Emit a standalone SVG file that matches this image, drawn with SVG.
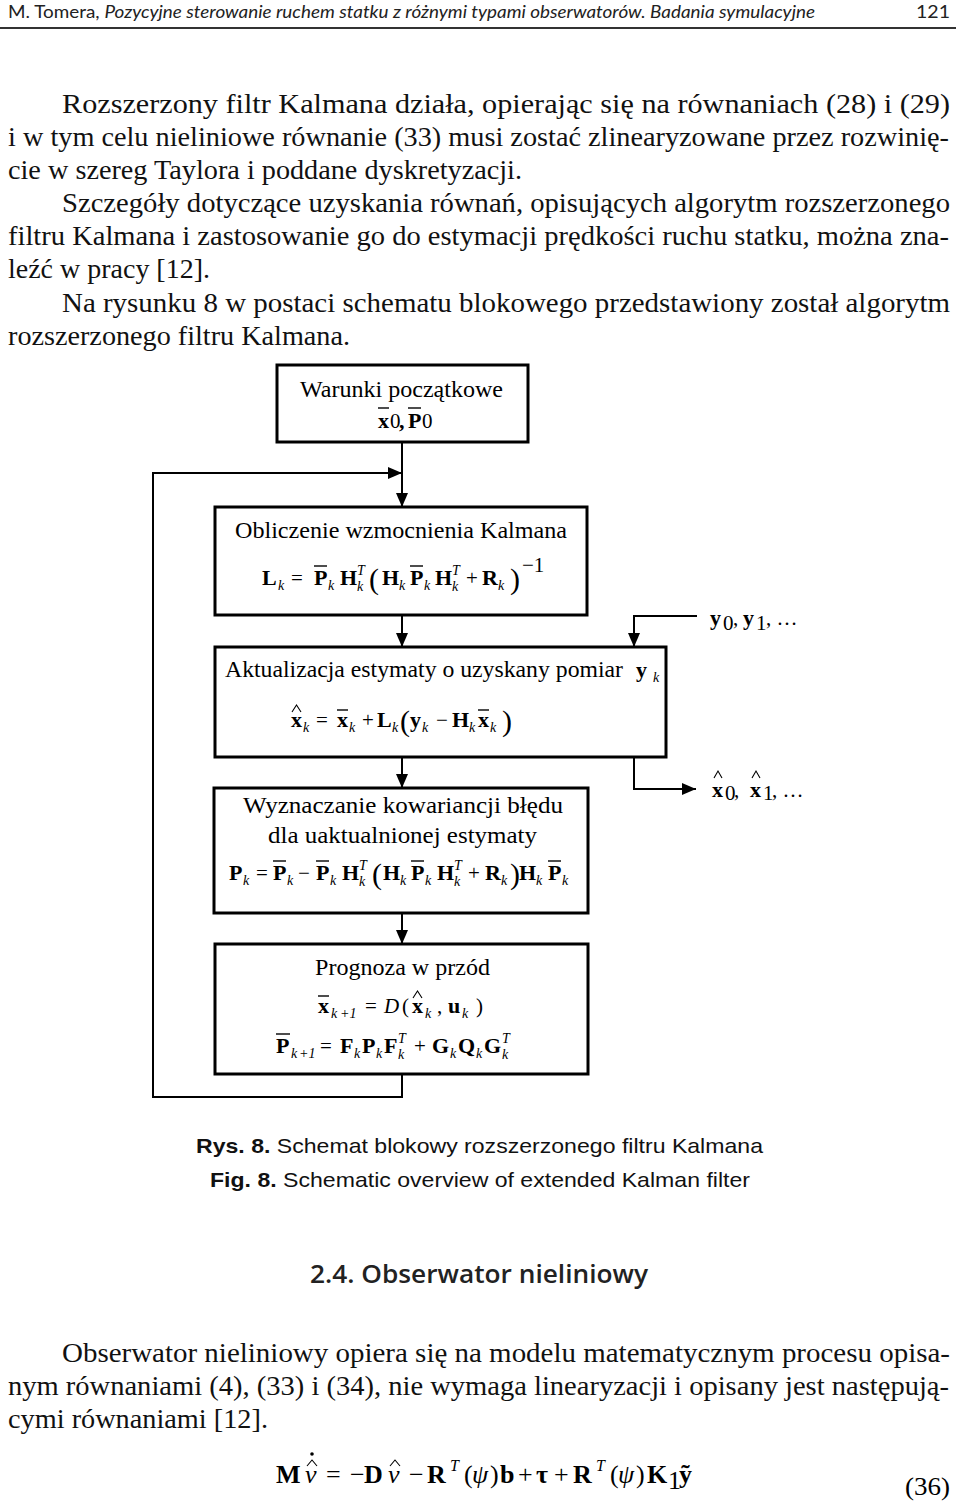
<svg xmlns="http://www.w3.org/2000/svg" width="960" height="1502" viewBox="0 0 960 1502">
<defs>
<style>
.hdr{font-family:"Lato","Open Sans",sans-serif;font-size:18px;fill:#222}
.bt{font-family:"Liberation Serif",serif;font-size:28px;fill:#111}
.bx{font-family:"Liberation Serif",serif;font-size:24px;fill:#000}
.m{font-family:"Liberation Serif",serif;font-size:22px;font-weight:bold;fill:#000}
.s{font-family:"Liberation Serif",serif;font-size:14px;font-style:italic;font-weight:normal}
.o{font-family:"Liberation Serif",serif;font-size:21px;font-weight:normal}
.p{font-family:"Liberation Serif",serif;font-size:30px;font-weight:normal}
.hat{fill:none;stroke:#000;stroke-width:1.1}
.node rect{fill:#fff;stroke:#000;stroke-width:3}
.bar{stroke:#000;stroke-width:1.4}
.conn{fill:none;stroke:#000;stroke-width:2}
.cap{font-family:"Liberation Sans",Arial,sans-serif;font-size:21px;fill:#111}
.head{font-family:"Open Sans","Liberation Sans",sans-serif;font-size:26px;font-weight:600;fill:#222}
.e{font-family:"Liberation Serif",serif;font-size:26px;font-weight:bold;fill:#000}
.eo{font-family:"Liberation Serif",serif;font-size:26px;font-weight:normal}
.ei{font-family:"Liberation Serif",serif;font-size:26px;font-style:italic;font-weight:normal}
.es{font-family:"Liberation Serif",serif;font-size:16px;font-style:italic;font-weight:normal}
</style>
<marker id="ah" viewBox="0 0 14 12" refX="14" refY="6" markerWidth="14" markerHeight="12" markerUnits="userSpaceOnUse" orient="auto"><path d="M0,0 L14,6 L0,12 z" fill="#000"/></marker>
</defs>
<rect width="960" height="1502" fill="#fff"/>

<g id="page-header">
<text class="hdr" x="8" y="18" textLength="807" lengthAdjust="spacingAndGlyphs">M. Tomera, <tspan font-style="italic">Pozycyjne sterowanie ruchem statku z różnymi typami obserwatorów. Badania symulacyjne</tspan></text>
<text class="hdr" x="916" y="18" font-size="20" textLength="34" lengthAdjust="spacingAndGlyphs">121</text>
<line x1="0" y1="28" x2="956" y2="28" stroke="#333" stroke-width="2"/>
</g>

<g id="body-top">
<text class="bt" x="62" y="113" textLength="888" lengthAdjust="spacingAndGlyphs">Rozszerzony filtr Kalmana działa, opierając się na równaniach (28) i (29)</text>
<text class="bt" x="8" y="146" textLength="941" lengthAdjust="spacingAndGlyphs">i w tym celu nieliniowe równanie (33) musi zostać zlinearyzowane przez rozwinię-</text>
<text class="bt" x="8" y="179" textLength="514" lengthAdjust="spacingAndGlyphs">cie w szereg Taylora i poddane dyskretyzacji.</text>
<text class="bt" x="62" y="212" textLength="888" lengthAdjust="spacingAndGlyphs">Szczegóły dotyczące uzyskania równań, opisujących algorytm rozszerzonego</text>
<text class="bt" x="8" y="245" textLength="941" lengthAdjust="spacingAndGlyphs">filtru Kalmana i zastosowanie go do estymacji prędkości ruchu statku, można zna-</text>
<text class="bt" x="8" y="278" textLength="202" lengthAdjust="spacingAndGlyphs">leźć w pracy [12].</text>
<text class="bt" x="62" y="312" textLength="888" lengthAdjust="spacingAndGlyphs">Na rysunku 8 w postaci schematu blokowego przedstawiony został algorytm</text>
<text class="bt" x="8" y="345" textLength="342" lengthAdjust="spacingAndGlyphs">rozszerzonego filtru Kalmana.</text>
</g>

<g id="connectors">
<line class="conn" x1="402" y1="442" x2="402" y2="507" marker-end="url(#ah)"/>
<path class="conn" d="M402,1074 V1097 H153 V473 H402" marker-end="url(#ah)"/>
<line class="conn" x1="402" y1="615" x2="402" y2="647" marker-end="url(#ah)"/>
<line class="conn" x1="402" y1="757" x2="402" y2="788" marker-end="url(#ah)"/>
<line class="conn" x1="402" y1="913" x2="402" y2="944" marker-end="url(#ah)"/>
<path class="conn" d="M697,616 H634 V647" marker-end="url(#ah)"/>
<path class="conn" d="M634,757 V789 H696" marker-end="url(#ah)"/>
</g>

<g id="box-init" class="node">
<rect x="277" y="365" width="251" height="77"/>
<text class="bx" x="300" y="397" textLength="203" lengthAdjust="spacingAndGlyphs">Warunki początkowe</text>
<text class="m"><tspan x="378" y="428">x</tspan><tspan class="o" x="390" y="428" font-size="17">0</tspan><tspan x="399" y="428">,</tspan><tspan x="408" y="428">P</tspan><tspan class="o" x="422" y="428" font-size="17">0</tspan></text>
<line class="bar" x1="378" y1="408" x2="389" y2="408"/>
<line class="bar" x1="408" y1="408" x2="421" y2="408"/>
</g>

<g id="box-gain" class="node">
<rect x="215" y="507" width="372" height="108"/>
<text class="bx" x="235" y="538" textLength="332" lengthAdjust="spacingAndGlyphs">Obliczenie wzmocnienia Kalmana</text>
<text class="m">
<tspan x="262" y="585">L</tspan><tspan class="s" x="278" y="590">k</tspan>
<tspan class="o" x="291" y="585">=</tspan>
<tspan x="314" y="585">P</tspan><tspan class="s" x="328" y="590">k</tspan>
<tspan x="340" y="585">H</tspan><tspan class="s" x="357" y="575">T</tspan><tspan class="s" x="357" y="591">k</tspan>
<tspan class="p" x="369" y="589">(</tspan>
<tspan x="382" y="585">H</tspan><tspan class="s" x="399" y="590">k</tspan>
<tspan x="410" y="585">P</tspan><tspan class="s" x="424" y="590">k</tspan>
<tspan x="435" y="585">H</tspan><tspan class="s" x="452" y="575">T</tspan><tspan class="s" x="452" y="591">k</tspan>
<tspan class="o" x="466" y="585">+</tspan>
<tspan x="482" y="585">R</tspan><tspan class="s" x="498" y="590">k</tspan>
<tspan class="p" x="510" y="589">)</tspan>
<tspan class="o" x="522" y="572" font-size="14">−1</tspan>
</text>
<line class="bar" x1="314" y1="566" x2="327" y2="566"/>
<line class="bar" x1="410" y1="566" x2="423" y2="566"/>
</g>

<g id="box-update" class="node">
<rect x="215" y="647" width="451" height="110"/>
<text class="bx" x="225" y="677" textLength="398" lengthAdjust="spacingAndGlyphs">Aktualizacja estymaty o uzyskany pomiar</text>
<text class="m"><tspan x="636" y="677">y</tspan><tspan class="s" x="653" y="682">k</tspan></text>
<polyline class="hat" points="292,712 296.5,705 301,712"/>
<text class="m">
<tspan x="291" y="727">x</tspan><tspan class="s" x="303" y="732">k</tspan>
<tspan class="o" x="316" y="727">=</tspan>
<tspan x="337" y="727">x</tspan><tspan class="s" x="349" y="732">k</tspan>
<tspan class="o" x="362" y="727">+</tspan>
<tspan x="377" y="727">L</tspan><tspan class="s" x="392" y="732">k</tspan>
<tspan class="p" x="400" y="731">(</tspan>
<tspan x="410" y="727">y</tspan><tspan class="s" x="422" y="732">k</tspan>
<tspan class="o" x="436" y="727">−</tspan>
<tspan x="452" y="727">H</tspan><tspan class="s" x="469" y="732">k</tspan>
<tspan x="478" y="727">x</tspan><tspan class="s" x="490" y="732">k</tspan>
<tspan class="p" x="502" y="731">)</tspan>
</text>
<line class="bar" x1="337" y1="710" x2="348" y2="710"/>
<line class="bar" x1="478" y1="710" x2="489" y2="710"/>
</g>

<g id="box-cov" class="node">
<rect x="214" y="788" width="374" height="125"/>
<text class="bx" x="243" y="813" textLength="320" lengthAdjust="spacingAndGlyphs">Wyznaczanie kowariancji błędu</text>
<text class="bx" x="268" y="843" textLength="269" lengthAdjust="spacingAndGlyphs">dla uaktualnionej estymaty</text>
<text class="m">
<tspan x="229" y="880">P</tspan><tspan class="s" x="243" y="885">k</tspan>
<tspan class="o" x="256" y="880">=</tspan>
<tspan x="273" y="880">P</tspan><tspan class="s" x="287" y="885">k</tspan>
<tspan class="o" x="298" y="880">−</tspan>
<tspan x="316" y="880">P</tspan><tspan class="s" x="330" y="885">k</tspan>
<tspan x="342" y="880">H</tspan><tspan class="s" x="359" y="870">T</tspan><tspan class="s" x="359" y="886">k</tspan>
<tspan class="p" x="372" y="884">(</tspan>
<tspan x="383" y="880">H</tspan><tspan class="s" x="400" y="885">k</tspan>
<tspan x="411" y="880">P</tspan><tspan class="s" x="425" y="885">k</tspan>
<tspan x="437" y="880">H</tspan><tspan class="s" x="454" y="870">T</tspan><tspan class="s" x="454" y="886">k</tspan>
<tspan class="o" x="468" y="880">+</tspan>
<tspan x="485" y="880">R</tspan><tspan class="s" x="501" y="885">k</tspan>
<tspan class="p" x="510" y="884">)</tspan>
<tspan x="519" y="880">H</tspan><tspan class="s" x="536" y="885">k</tspan>
<tspan x="548" y="880">P</tspan><tspan class="s" x="562" y="885">k</tspan>
</text>
<line class="bar" x1="273" y1="861" x2="286" y2="861"/>
<line class="bar" x1="316" y1="861" x2="329" y2="861"/>
<line class="bar" x1="411" y1="861" x2="424" y2="861"/>
<line class="bar" x1="548" y1="861" x2="561" y2="861"/>
</g>

<g id="box-predict" class="node">
<rect x="215" y="944" width="373" height="130"/>
<text class="bx" x="315" y="975" textLength="175" lengthAdjust="spacingAndGlyphs">Prognoza w przód</text>
<polyline class="hat" points="413,998 417.5,991 422,998"/>
<text class="m">
<tspan x="318" y="1013">x</tspan><tspan class="s" x="331" y="1018">k</tspan><tspan class="s" x="340" y="1018" font-style="normal">+1</tspan>
<tspan class="o" x="365" y="1013">=</tspan>
<tspan class="o" x="384" y="1013" font-style="italic" font-size="23">D</tspan>
<tspan class="o" x="402" y="1013">(</tspan>
<tspan x="412" y="1013">x</tspan><tspan class="s" x="425" y="1018">k</tspan>
<tspan class="o" x="437" y="1013">,</tspan>
<tspan x="448" y="1013">u</tspan><tspan class="s" x="462" y="1018">k</tspan>
<tspan class="o" x="476" y="1013">)</tspan>
</text>
<line class="bar" x1="318" y1="996" x2="329" y2="996"/>
<text class="m" font-size="23">
<tspan x="276" y="1053">P</tspan><tspan class="s" x="291" y="1058">k</tspan><tspan class="s" x="299" y="1058" font-style="normal">+1</tspan>
<tspan class="o" x="320" y="1053">=</tspan>
<tspan x="340" y="1053">F</tspan><tspan class="s" x="354" y="1058">k</tspan>
<tspan x="362" y="1053">P</tspan><tspan class="s" x="376" y="1058">k</tspan>
<tspan x="384" y="1053">F</tspan><tspan class="s" x="398" y="1043">T</tspan><tspan class="s" x="398" y="1059">k</tspan>
<tspan class="o" x="414" y="1053">+</tspan>
<tspan x="432" y="1053">G</tspan><tspan class="s" x="450" y="1058">k</tspan>
<tspan x="458" y="1053">Q</tspan><tspan class="s" x="476" y="1058">k</tspan>
<tspan x="484" y="1053">G</tspan><tspan class="s" x="502" y="1043">T</tspan><tspan class="s" x="502" y="1059">k</tspan>
</text>
<line class="bar" x1="276" y1="1034" x2="290" y2="1034"/>
</g>

<g id="label-y">
<text class="m" font-size="23"><tspan x="710" y="625">y</tspan><tspan class="o" x="723" y="630" font-size="15">0</tspan><tspan class="o" x="733" y="625">,</tspan><tspan x="743" y="625">y</tspan><tspan class="o" x="756" y="630" font-size="15">1</tspan><tspan class="o" x="766" y="625">, …</tspan></text>
</g>

<g id="label-xhat">
<polyline class="hat" points="714,778 718,771 722,778"/>
<polyline class="hat" points="752,778 756,771 760,778"/>
<text class="m" font-size="23"><tspan x="712" y="797">x</tspan><tspan class="o" x="725" y="800" font-size="15">0</tspan><tspan class="o" x="734" y="797">,</tspan><tspan x="750" y="797">x</tspan><tspan class="o" x="763" y="800" font-size="15">1</tspan><tspan class="o" x="772" y="797">, …</tspan></text>
</g>

<g id="caption">
<text class="cap" x="196" y="1153" textLength="567" lengthAdjust="spacingAndGlyphs"><tspan font-weight="bold">Rys. 8.</tspan> Schemat blokowy rozszerzonego filtru Kalmana</text>
<text class="cap" x="210" y="1187" textLength="540" lengthAdjust="spacingAndGlyphs"><tspan font-weight="bold">Fig. 8.</tspan> Schematic overview of extended Kalman filter</text>
</g>

<g id="section">
<text class="head" x="310" y="1283" textLength="338" lengthAdjust="spacingAndGlyphs">2.4. Obserwator nieliniowy</text>
</g>

<g id="body-bottom">
<text class="bt" x="62" y="1362" textLength="888" lengthAdjust="spacingAndGlyphs">Obserwator nieliniowy opiera się na modelu matematycznym procesu opisa-</text>
<text class="bt" x="8" y="1395" textLength="941" lengthAdjust="spacingAndGlyphs">nym równaniami (4), (33) i (34), nie wymaga linearyzacji i opisany jest następują-</text>
<text class="bt" x="8" y="1428" textLength="260" lengthAdjust="spacingAndGlyphs">cymi równaniami [12].</text>
</g>

<g id="equation-36">
<polyline class="hat" points="307,1466 312,1460 317,1466" stroke-width="1.5"/>
<circle cx="312" cy="1454" r="1.8" fill="#000"/>
<polyline class="hat" points="390,1466 395,1460 400,1466" stroke-width="1.5"/>
<text class="e">
<tspan x="276" y="1483">M</tspan>
<tspan class="ei" x="305" y="1483">ν</tspan>
<tspan class="eo" x="326" y="1483">=</tspan>
<tspan class="eo" x="350" y="1483">−</tspan>
<tspan x="364" y="1483">D</tspan>
<tspan class="ei" x="388" y="1483">ν</tspan>
<tspan class="eo" x="409" y="1483">−</tspan>
<tspan x="427" y="1483">R</tspan><tspan class="es" x="450" y="1471">T</tspan>
<tspan class="eo" x="464" y="1483">(</tspan><tspan class="ei" x="472" y="1483">ψ</tspan><tspan class="eo" x="490" y="1483">)</tspan>
<tspan x="500" y="1483">b</tspan>
<tspan class="eo" x="518" y="1483">+</tspan>
<tspan x="536" y="1483">τ</tspan>
<tspan class="eo" x="554" y="1483">+</tspan>
<tspan x="573" y="1483">R</tspan><tspan class="es" x="596" y="1471">T</tspan>
<tspan class="eo" x="610" y="1483">(</tspan><tspan class="ei" x="618" y="1483">ψ</tspan><tspan class="eo" x="636" y="1483">)</tspan>
<tspan x="647" y="1483">K</tspan><tspan class="eo" x="668" y="1489" font-size="16">1</tspan>
<tspan x="679" y="1483">ỹ</tspan>
</text>
<text class="eo" x="905" y="1495" font-size="26" textLength="45" lengthAdjust="spacingAndGlyphs">(36)</text>
</g>
</svg>
